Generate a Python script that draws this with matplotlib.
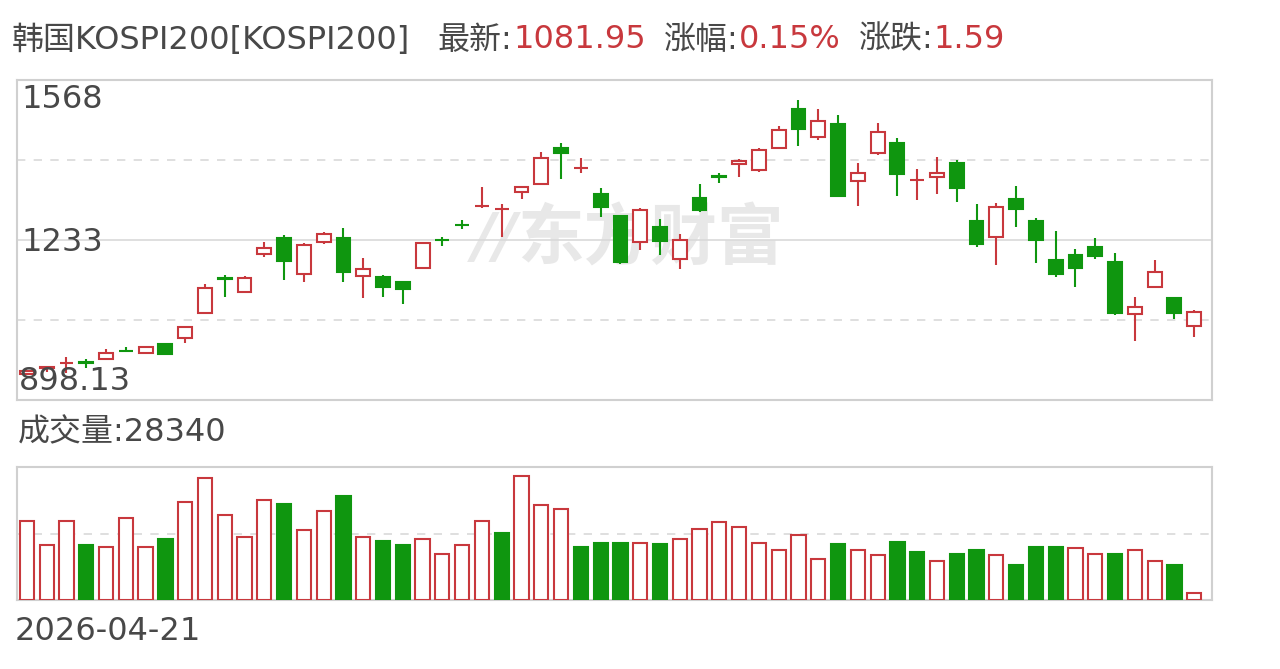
import matplotlib
matplotlib.use("Agg")
import matplotlib.pyplot as plt
import numpy as np

plt.rcParams['font.family'] = ['DejaVu Sans', 'Noto Sans CJK SC']

# 数据
open_ = [952.6, 965.1, 975.0, 977.0, 984.0, 1001.5, 996.5, 1015.0, 1027.9, 1080.3,
         1152.5, 1124.2, 1203.8, 1237.3, 1161.9, 1228.9, 1237.3, 1157.7, 1155.6, 1145.1,
         1174.5, 1234.0, 1265.5, 1303.2, 1297.0, 1333.5, 1350.3, 1425.7, 1382.8, 1329.4,
         1283.3, 1228.9, 1260.3, 1193.3, 1321.0, 1366.0, 1392.2, 1379.6, 1425.7, 1507.3,
         1448.7, 1475.9, 1356.6, 1415.2, 1436.1, 1358.0, 1365.0, 1394.3, 1272.8, 1239.3,
         1318.9, 1272.8, 1191.2, 1201.7, 1218.4, 1187.0, 1078.2, 1134.7, 1111.7, 1053.0]
high = [960.9, 967.2, 988.2, 984.0, 1004.9, 1009.1, 1011.0, 1017.5, 1051.0, 1140.9,
        1159.8, 1157.7, 1228.9, 1243.5, 1226.8, 1249.8, 1258.2, 1195.4, 1159.8, 1145.5,
        1228.9, 1239.3, 1274.9, 1344.0, 1308.4, 1344.0, 1417.3, 1436.1, 1404.7, 1341.9,
        1285.0, 1300.1, 1277.0, 1245.6, 1350.3, 1373.3, 1402.6, 1425.7, 1471.7, 1526.1,
        1507.3, 1494.7, 1394.3, 1478.0, 1446.6, 1381.7, 1406.8, 1400.5, 1308.4, 1310.5,
        1346.1, 1279.1, 1251.9, 1214.2, 1237.3, 1205.9, 1113.7, 1191.2, 1113.7, 1086.5]
low = [950.5, 956.7, 954.6, 965.0, 984.0, 998.6, 995.0, 994.0, 1017.5, 1080.0,
       1113.7, 1122.0, 1197.5, 1149.3, 1145.1, 1224.7, 1145.1, 1111.7, 1113.7, 1099.1,
       1174.0, 1220.5, 1256.1, 1300.1, 1239.3, 1318.9, 1350.0, 1360.8, 1373.3, 1281.2,
       1182.8, 1212.1, 1201.7, 1172.4, 1291.7, 1352.4, 1365.0, 1375.4, 1425.0, 1429.8,
       1442.4, 1325.0, 1304.2, 1411.0, 1325.2, 1316.8, 1329.4, 1312.6, 1218.4, 1180.7,
       1260.3, 1184.9, 1155.6, 1134.7, 1193.3, 1076.1, 1021.7, 1134.7, 1067.7, 1030.0]
close = [958.8, 967.2, 976.6, 975.0, 996.5, 1000.0, 1009.1, 994.4, 1050.9, 1132.6,
         1151.4, 1153.5, 1216.3, 1189.1, 1222.6, 1245.6, 1166.1, 1172.4, 1134.7, 1130.5,
         1226.8, 1233.0, 1264.5, 1304.2, 1298.0, 1344.0, 1404.7, 1415.2, 1383.8, 1302.2,
         1187.0, 1295.9, 1231.0, 1233.1, 1295.9, 1365.0, 1398.4, 1421.5, 1463.3, 1465.4,
         1482.2, 1325.2, 1373.3, 1459.1, 1371.2, 1358.7, 1373.3, 1341.9, 1224.7, 1302.2,
         1298.0, 1233.1, 1161.9, 1174.5, 1199.6, 1080.3, 1092.8, 1166.1, 1080.36, 1081.95]
volume = [307000, 214000, 307000, 214000, 206000, 315000, 206000, 236000, 379000, 473000,
          329000, 243000, 387000, 372000, 271000, 344000, 401000, 243000, 228000, 214000,
          235000, 178000, 214000, 307000, 258000, 480000, 365000, 351000, 206000, 222000,
          222000, 222000, 215000, 236000, 273000, 301000, 280000, 222000, 194000, 252000,
          157000, 215000, 194000, 172000, 223000, 187000, 151000, 179000, 194000, 172000,
          135000, 203000, 203000, 200000, 179000, 179000, 194000, 151000, 135000, 28340]

y_min, y_max = 898.13, 1568
last_date = "2026-04-21"

RED = '#c8383d'
GREEN = '#0f960f'
TXT = '#484848'
GRID = '#d9d9d9'

open_ = np.array(open_); high = np.array(high); low = np.array(low)
close = np.array(close); volume = np.array(volume)
x = np.arange(len(close))
up = close >= open_
prev = np.r_[close[0], close[:-1]]
vol_up = close >= prev
vol_up[0] = up[0]

fig = plt.figure(figsize=(12.8, 6.69), dpi=100)
ax = fig.add_axes([17/1280, 1-400/669, (1212-17)/1280, 320/669])
ax2 = fig.add_axes([17/1280, 1-600/669, (1212-17)/1280, 133/669])

# K线
w = 0.7
body_lo = np.minimum(open_, close)
body_hi = np.maximum(open_, close)
col = np.where(up, RED, GREEN)
ax.vlines(x, body_hi, high, colors=col, lw=1.5, zorder=2)
ax.vlines(x, low, body_lo, colors=col, lw=1.5, zorder=2)
ax.bar(x, np.maximum(body_hi - body_lo, 0.8), w, bottom=body_lo,
       color=np.where(up, 'white', GREEN), edgecolor=col, linewidth=1.5, zorder=3)

ax.set_xlim(-0.5, 59.9)
ax.set_ylim(y_min, y_max)
mid = (y_min + y_max) / 2
ax.axhline(mid, color=GRID, lw=1.2, zorder=1)
for q in [(y_min + mid) / 2, (mid + y_max) / 2]:
    ax.axhline(q, color=GRID, lw=1.2, ls=(0, (5, 5)), zorder=1)

# 水印
ax.text(0.53, 0.5, "东方财富", transform=ax.transAxes, fontsize=48, fontweight='bold',
        family='Noto Sans CJK SC', color='#e8e8e8', ha='center', va='center', zorder=0)
ax.text(0.40, 0.5, "//", transform=ax.transAxes, fontsize=44, fontweight='bold',
        style='italic', color='#e8e8e8', ha='center', va='center', zorder=0)

# 成交量
vcol = np.where(vol_up, RED, GREEN)
ax2.bar(x, volume, 0.72, color=np.where(vol_up, 'white', GREEN), edgecolor=vcol,
        linewidth=1.5, zorder=3)
ax2.set_xlim(-0.5, 59.9)
ax2.set_ylim(0, volume.max() * 1.07)
ax2.axhline(volume.max() * 1.07 / 2, color=GRID, lw=1.2, ls=(0, (5, 5)), zorder=1)

for a in (ax, ax2):
    a.set_xticks([]); a.set_yticks([])
    for s in a.spines.values():
        s.set_color('#d0d0d0'); s.set_linewidth(1.5)

# 文字
fs = 23
ty = 1 - 40/669
fig.text(12/1280, ty, "韩国KOSPI200[KOSPI200]", fontsize=fs, color=TXT, va='center')
fig.text(437/1280, ty, "最新:", fontsize=fs, color=TXT, va='center')
fig.text(513/1280, ty, f"{close[-1]:.2f}", fontsize=fs, color=RED, va='center')
fig.text(664/1280, ty, "涨幅:", fontsize=fs, color=TXT, va='center')
fig.text(739/1280, ty, "0.15%", fontsize=fs, color=RED, va='center')
fig.text(859/1280, ty, "涨跌:", fontsize=fs, color=TXT, va='center')
fig.text(933/1280, ty, f"{close[-1] - close[-2]:.2f}", fontsize=fs, color=RED, va='center')

fig.text(21/1280, 1-100/669, f"{y_max:g}", fontsize=fs, color=TXT, va='center')
fig.text(21/1280, 1-242/669, f"{round(mid):d}", fontsize=fs, color=TXT, va='center')
fig.text(19/1280, 1-382/669, f"{y_min:.2f}", fontsize=fs, color=TXT, va='center')
fig.text(18/1280, 1-433/669, f"成交量:{volume[-1]}", fontsize=fs, color=TXT, va='center')
fig.text(15/1280, 1-632/669, last_date, fontsize=fs, color=TXT, va='center')

fig.savefig("out.png", dpi=100, facecolor='white')
